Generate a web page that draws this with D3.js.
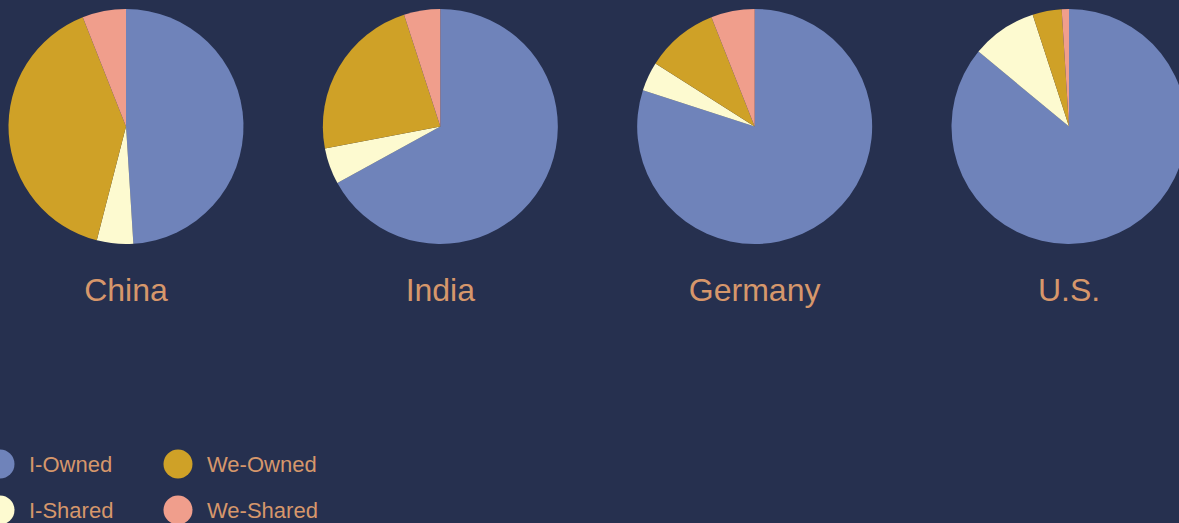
<!DOCTYPE html>
<html>
<head>
<meta charset="utf-8">
<script src="https://cdn.jsdelivr.net/npm/d3@7"></script>
<style>
  html, body { margin: 0; padding: 0; background: #26304f; overflow: hidden; }
  svg { display: block; }
  text { font-family: "Liberation Sans", Arial, Helvetica, sans-serif; }
</style>
</head>
<body>
<svg id="chart" width="1179" height="523"></svg>
<script>
// ---- Data ----
const countries = ["China", "India", "Germany", "U.S."];
const categories = ["I-Owned", "I-Shared", "We-Owned", "We-Shared"];
const iOwned   = [49, 67, 80, 86];
const iShared  = [5, 5, 4, 9];
const weOwned  = [40, 23, 10, 4];
const weShared = [6, 5, 6, 1];
const colors = ["#6f83ba", "#fdfad0", "#cfa127", "#f09e8c"];

// ---- Drawing ----
const W = 1179, H = 523;
const svg = d3.select("#chart");
svg.append("rect").attr("width", W).attr("height", H).attr("fill", "#26304f");

const series = [iOwned, iShared, weOwned, weShared];
const rows = countries.map((c, i) => ({
  country: c,
  values: categories.map((k, j) => ({ key: k, value: series[j][i] }))
}));

const x = d3.scalePoint().domain(countries).range([126, 1069]);
const color = d3.scaleOrdinal().domain(categories).range(colors);
const radius = 117.5;
const cy = 126.5;

const pie = d3.pie().sort(null).value(d => d.value);
const arc = d3.arc().innerRadius(0).outerRadius(radius);

const g = svg.selectAll("g.pie").data(rows).join("g")
  .attr("class", "pie")
  .attr("transform", d => `translate(${x(d.country)},${cy})`);

g.selectAll("path").data(d => pie(d.values)).join("path")
  .attr("d", arc)
  .attr("fill", d => color(d.data.key));

svg.selectAll("text.country").data(rows).join("text")
  .attr("class", "country")
  .attr("x", d => x(d.country))
  .attr("y", 301)
  .attr("text-anchor", "middle")
  .attr("font-size", 32)
  .attr("fill", "#d6976b")
  .text(d => d.country);

// Legend
const legX = d3.scaleOrdinal().domain(categories).range([0, 0, 178, 178]);
const legY = d3.scaleOrdinal().domain(categories).range([464, 510, 464, 510]);
const leg = svg.selectAll("g.leg").data(categories).join("g")
  .attr("class", "leg")
  .attr("transform", d => `translate(${legX(d)},${legY(d)})`);
leg.append("circle").attr("r", 14.5).attr("fill", d => color(d));
leg.append("text")
  .attr("x", 29)
  .attr("y", 8)
  .attr("font-size", 22)
  .attr("fill", "#d6976b")
  .text(d => d);
</script>
</body>
</html>
